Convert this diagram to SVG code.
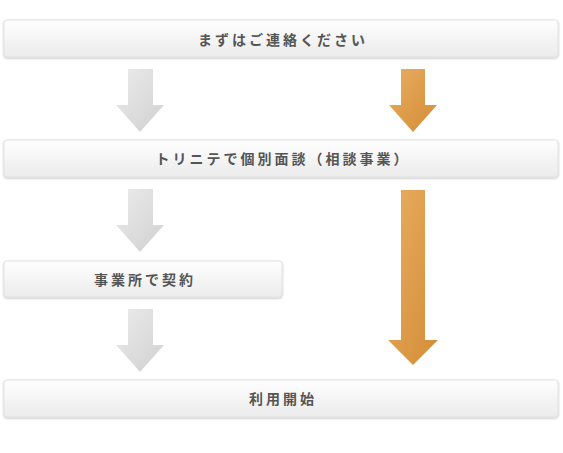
<svg xmlns="http://www.w3.org/2000/svg" width="563" height="453" viewBox="0 0 563 453">
<style>
.box{fill:url(#bg);stroke:#e2e2e2;stroke-width:1;filter:url(#sh)}
.t{font-family:"Noto Sans CJK JP","Noto Sans CJK SC",sans-serif;font-size:14px;font-weight:bold;fill:#555;letter-spacing:3px;text-anchor:middle}
.ga{fill:url(#gg)}
.oa{fill:url(#og)}
</style>
<defs>
<linearGradient id="bg" x1="0" y1="0" x2="0" y2="1"><stop offset="0" stop-color="#ffffff"/><stop offset="1" stop-color="#ebebeb"/></linearGradient>
<linearGradient id="gg" x1="0" y1="0" x2="1" y2="1"><stop offset="0" stop-color="#ececec"/><stop offset="1" stop-color="#d0d0d0"/></linearGradient>
<linearGradient id="og" x1="0" y1="0" x2="1" y2="1"><stop offset="0" stop-color="#e9ad62"/><stop offset="1" stop-color="#d38d36"/></linearGradient>
<filter id="sh" x="-5%" y="-30%" width="110%" height="170%"><feDropShadow dx="0" dy="1" stdDeviation="1" flood-color="#000" flood-opacity="0.25"/></filter>
</defs>
<g id="n1"><rect class="box" x="4" y="20" width="554" height="37" rx="3"/><text class="t" x="283" y="45">まずはご連絡ください</text></g>
<g id="n2"><rect class="box" x="4" y="140" width="554" height="37" rx="3"/><text class="t" x="283" y="164">トリニテで個別面談（相談事業）</text></g>
<g id="n3"><rect class="box" x="4" y="261" width="278" height="36" rx="3"/><text class="t" x="145" y="285">事業所で契約</text></g>
<g id="n4"><rect class="box" x="4" y="380" width="554" height="37" rx="3"/><text class="t" x="283" y="404">利用開始</text></g>
<g id="connectors">
<polygon class="ga" points="128,69 153,69 153,105 164,105 140,132 116,105 128,105"/>
<polygon class="ga" points="128,189 153,189 153,225 164,225 140,252 116,225 128,225"/>
<polygon class="ga" points="128,309 153,309 153,345 164,345 140,372 116,345 128,345"/>
<polygon class="oa" points="401,69 425,69 425,105 437,105 413,132 389,105 401,105"/>
<polygon class="oa" points="401,190 425,190 425,340 438,340 413,365 388,340 401,340"/>
</g>
</svg>
